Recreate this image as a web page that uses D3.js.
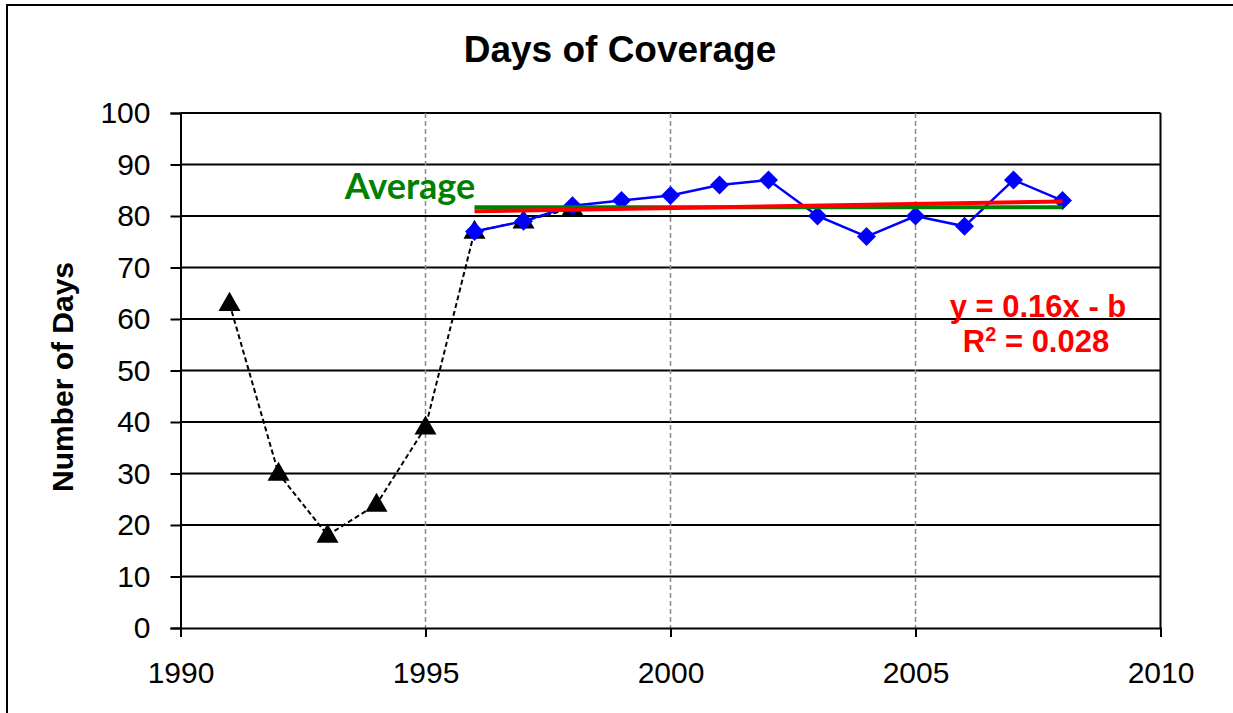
<!DOCTYPE html>
<html lang="en"><head><meta charset="UTF-8">
<title>Days of Coverage</title>
<script src="https://d3js.org/d3.v7.min.js"></script>
<style type="text/css">
  body { margin: 0; background: #fff; }
</style>
</head>
<body>
<script type="text/javascript">

// early years (black triangles, dashed)
var earlyYears = [1991, 1992, 1993, 1994, 1995, 1996, 1997, 1998];
var earlyDays  = [63, 30, 18, 24, 39, 77, 79, 81.5];

// later years (blue diamonds)
var lateYears = [1996, 1997, 1998, 1999, 2000, 2001, 2002, 2003, 2004, 2005, 2006, 2007, 2008];
var lateDays  = [77, 79, 82, 83, 84, 86, 87, 80, 76, 80, 78, 87, 83];

// average and trend lines
var avgYears = [1996, 2008];
var avgDays = [81.7, 81.7];
var trendYears = [1996, 2008];
var trendDays = [80.9, 82.8];

var xTicks = [1990, 1995, 2000, 2005, 2010];
var yTicks = [0, 10, 20, 30, 40, 50, 60, 70, 80, 90, 100];

var w = 1233, h = 713;
var plotLeft = 180.5, plotRight = 1160.5, plotTop = 113, plotBottom = 628;
var arial = "Liberation Sans, Arial, sans-serif";

var svg = d3.select("body").append("svg")
  .attr("width", w).attr("height", h)
  .style("font-family", arial);

// chart frame
svg.append("rect")
  .attr("x", 7).attr("y", 5).attr("width", 1240).attr("height", 720)
  .attr("fill", "none").attr("stroke", "#000").attr("stroke-width", 2);

var x = d3.scaleLinear().domain([1990, 2010]).range([plotLeft, plotRight]);
var y = d3.scaleLinear().domain([0, 100]).range([plotBottom, plotTop]);

// horizontal gridlines
svg.append("g").selectAll("line").data(yTicks.slice(1)).enter().append("line")
  .attr("x1", plotLeft).attr("x2", plotRight)
  .attr("y1", function(d) { return y(d); }).attr("y2", function(d) { return y(d); })
  .attr("stroke", "#000").attr("stroke-width", 2);

// vertical gridlines
svg.append("g").selectAll("line").data([1995, 2000, 2005]).enter().append("line")
  .attr("x1", function(d) { return x(d); }).attr("x2", function(d) { return x(d); })
  .attr("y1", plotTop).attr("y2", plotBottom)
  .attr("stroke", "#888").attr("stroke-width", 1.5).attr("stroke-dasharray", "5,3");

// right border of plot area
svg.append("line")
  .attr("x1", plotRight).attr("x2", plotRight).attr("y1", plotTop).attr("y2", plotBottom)
  .attr("stroke", "#000").attr("stroke-width", 2);

// axes
var yAxis = d3.axisLeft(y).tickValues(yTicks).tickSize(10).tickPadding(20);
var gy = svg.append("g").attr("transform", "translate(" + plotLeft + ",0)").call(yAxis);
gy.select(".domain").attr("stroke-width", 2);
gy.selectAll(".tick line").attr("stroke-width", 2);
gy.selectAll("text").attr("font-size", 30).attr("fill", "#000").attr("font-family", arial);

var xAxis = d3.axisBottom(x).tickValues(xTicks).tickFormat(d3.format("d")).tickSize(9).tickPadding(25);
var gx = svg.append("g").attr("transform", "translate(0," + plotBottom + ")").call(xAxis);
gx.select(".domain").attr("stroke-width", 2);
gx.selectAll(".tick line").attr("stroke-width", 2);
gx.selectAll("text").attr("font-size", 30).attr("fill", "#000").attr("font-family", arial);

// title and axis label
svg.append("text").attr("x", 620).attr("y", 62).attr("text-anchor", "middle")
  .attr("font-size", 37).attr("font-weight", "bold").text("Days of Coverage");

svg.append("text").attr("transform", "translate(73,377) rotate(-90)")
  .attr("text-anchor", "middle").attr("font-size", 30).attr("font-weight", "bold")
  .text("Number of Days");

var line = d3.line()
  .x(function(d) { return x(d[0]); })
  .y(function(d) { return y(d[1]); });

// early series
var early = d3.zip(earlyYears, earlyDays);
svg.append("path").datum(early).attr("d", line)
  .attr("fill", "none").attr("stroke", "#000").attr("stroke-width", 2)
  .attr("stroke-dasharray", "5,3");
svg.append("g").selectAll("path").data(early).enter().append("path")
  .attr("d", d3.symbol().type(d3.symbolTriangle).size(210))
  .attr("transform", function(d) { return "translate(" + x(d[0]) + "," + (y(d[1]) + 1) + ")"; })
  .attr("fill", "#000");

// late series
var late = d3.zip(lateYears, lateDays);
svg.append("path").datum(late).attr("d", line)
  .attr("fill", "none").attr("stroke", "#0000ff").attr("stroke-width", 2.5);
svg.append("g").selectAll("path").data(late).enter().append("path")
  .attr("d", d3.symbol().type(d3.symbolDiamond2).size(230))
  .attr("transform", function(d) { return "translate(" + x(d[0]) + "," + y(d[1]) + ")"; })
  .attr("fill", "#0000ff");

// average line
svg.append("path").datum(d3.zip(avgYears, avgDays)).attr("d", line)
  .attr("stroke", "#008000").attr("stroke-width", 4).attr("fill", "none");

// trend line
svg.append("path").datum(d3.zip(trendYears, trendDays)).attr("d", line)
  .attr("stroke", "#ff0000").attr("stroke-width", 4).attr("fill", "none");

// labels
svg.append("text").attr("x", 410).attr("y", 199).attr("text-anchor", "middle")
  .attr("font-family", "Lato, Open Sans, sans-serif").attr("font-size", 36).attr("font-weight", "bold")
  .attr("fill", "#008000").text("Average");

svg.append("text").attr("x", 1038).attr("y", 317).attr("text-anchor", "middle")
  .attr("font-size", 31).attr("font-weight", "bold").attr("fill", "#ff0000")
  .text("y = 0.16x - b");

var r2 = svg.append("text").attr("x", 1036).attr("y", 352).attr("text-anchor", "middle")
  .attr("font-size", 31).attr("font-weight", "bold").attr("fill", "#ff0000");
r2.append("tspan").text("R");
r2.append("tspan").attr("font-size", 20).attr("dy", -11).text("2");
r2.append("tspan").attr("dy", 11).text(" = 0.028");

</script>
</body></html>
